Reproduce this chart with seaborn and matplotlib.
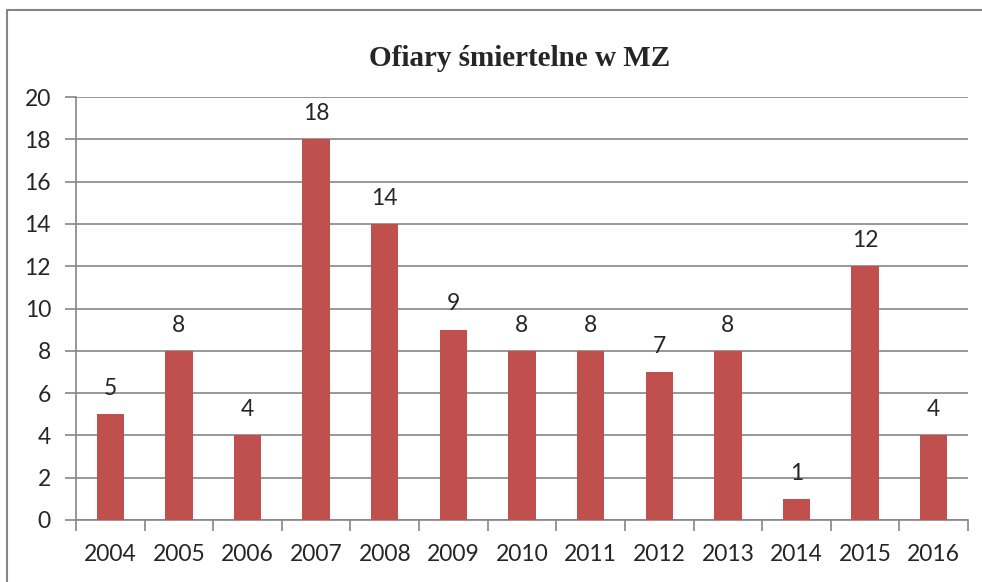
import matplotlib
matplotlib.use("Agg")
import matplotlib.pyplot as plt
import numpy as np
import pandas as pd
import seaborn as sns
from matplotlib.patches import Rectangle

years = ["2004", "2005", "2006", "2007", "2008", "2009", "2010",
         "2011", "2012", "2013", "2014", "2015", "2016"]
deaths = [5, 8, 4, 18, 14, 9, 8, 8, 7, 8, 1, 12, 4]
y_ticks = [0, 2, 4, 6, 8, 10, 12, 14, 16, 18, 20]
title = "Ofiary śmiertelne w MZ"

bar_color = "#C0504D"
line_color = "#868686"

sns.set_theme(style="white")
plt.rcParams["font.family"] = ["Lato", "DejaVu Sans"]

df = pd.DataFrame({"rok": years, "ofiary": deaths})

fig = plt.figure(figsize=(9.82, 5.82), dpi=100)
ax = fig.add_axes([76 / 982, 1 - 520 / 582, (968 - 76) / 982, (520 - 97) / 582])

sns.barplot(data=df, x="rok", y="ofiary", color=bar_color, width=0.4,
            saturation=1, linewidth=0, ax=ax, zorder=3)

ax.set_ylim(0, 20)
ax.set_xlim(-0.5, len(years) - 0.5)
ax.set_yticks(y_ticks)
ax.yaxis.grid(True, color=line_color, linewidth=1.2, zorder=0)
ax.set_xlabel("")
ax.set_ylabel("")

for side in ["top", "right"]:
    ax.spines[side].set_visible(False)
for side in ["left", "bottom"]:
    ax.spines[side].set_color(line_color)
    ax.spines[side].set_linewidth(1.2)

# ticks between categories on x, outward on y
ax.set_xticks(np.arange(len(years)))
ax.set_xticklabels(years)
ax.set_xticks(np.arange(len(years) + 1) - 0.5, minor=True)
ax.tick_params(axis="x", which="major", length=0, labelsize=16.5, pad=17)
ax.tick_params(axis="x", which="minor", length=8, width=1.2,
               color=line_color, direction="out", bottom=True)
ax.tick_params(axis="y", length=8, width=1.2, color=line_color,
               direction="out", left=True, labelsize=16.5, pad=10)

for i, v in enumerate(deaths):
    ax.annotate(str(v), (i, v), xytext=(0, 11), textcoords="offset points",
                ha="center", va="bottom", fontsize=16.5)

fig.text(520 / 982, 1 - 58 / 582, title, ha="center", va="center",
         fontsize=21, fontweight="bold", family="Liberation Serif")

# chart border
fig.patches.append(Rectangle((7 / 982, -0.1), 1.2, 1.1 - 10 / 582,
                             transform=fig.transFigure, fill=False,
                             edgecolor=line_color, linewidth=1.5))

fig.savefig("out.png", dpi=100, facecolor="white")
